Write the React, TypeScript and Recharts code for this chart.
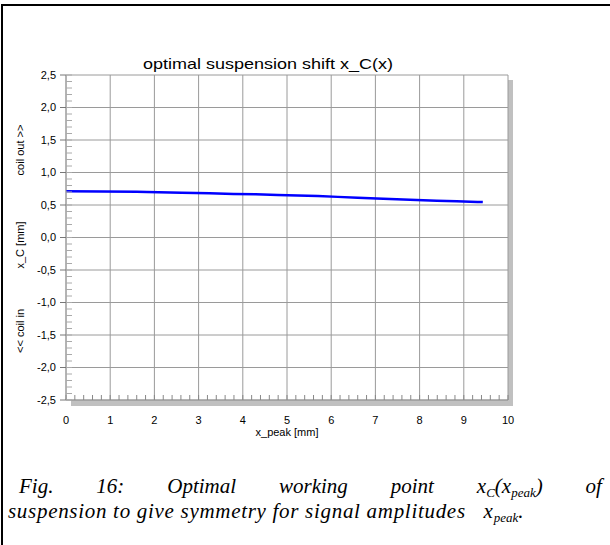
import React from 'react';
import { LineChart, Line, XAxis, YAxis, CartesianGrid } from 'recharts';

const xPeak = [0, 1.6, 1.83, 2.62, 3.25, 3.79, 4.29, 4.79, 5.24, 5.7, 6.15, 6.6, 7.03, 7.48, 7.93, 8.39, 8.84, 9.31, 9.43];
const xC = [0.71, 0.705, 0.7, 0.69, 0.68, 0.67, 0.665, 0.655, 0.645, 0.638, 0.625, 0.61, 0.6, 0.59, 0.578, 0.567, 0.557, 0.548, 0.545];

const xTicks = [0, 1, 2, 3, 4, 5, 6, 7, 8, 9, 10];
const yTicks = [-2.5, -2, -1.5, -1, -0.5, 0, 0.5, 1, 1.5, 2, 2.5];
const xMinorTicks = Array.from({ length: 51 }, (_, i) => +(i * 0.2).toFixed(1));
const yMinorTicks = Array.from({ length: 51 }, (_, i) => +(-2.5 + i * 0.1).toFixed(1));

const title = 'optimal suspension shift x_C(x)';
const xLabel = 'x_peak [mm]';
const yLabelTop = 'coil out >>';
const yLabelMid = 'x_C [mm]';
const yLabelBot = '<< coil in';

const data = xPeak.map((x, i) => ({ x, y: xC[i] }));

const GRID = '#9a9a9a';
const sans = 'Arial, "Liberation Sans", sans-serif';
const serif = '"Times New Roman", "Liberation Serif", serif';

const fmt = (v: number) => v.toFixed(1).replace('.', ',');

const subStyle: React.CSSProperties = { fontSize: 13, verticalAlign: '-4px', lineHeight: 0, letterSpacing: 0 };

const rotLabel = (text: string, cy: number) => (
  <div
    style={{
      position: 'absolute',
      left: 20,
      top: cy,
      transform: 'translate(-50%, -50%) rotate(-90deg)',
      whiteSpace: 'nowrap',
      fontFamily: sans,
      fontSize: 11,
      color: '#000',
    }}
  >
    {text}
  </div>
);

export default function App() {
  return (
    <div style={{ position: 'absolute', left: 0, top: 0, width: 610, height: 545, background: '#fff', overflow: 'hidden' }}>
      <div style={{ position: 'absolute', left: 1, top: 4, width: 700, height: 700, borderLeft: '2px solid #000', borderTop: '2px solid #000' }} />
      <div style={{ position: 'absolute', left: 71, top: 80, width: 442, height: 326, background: '#c0c0c0' }} />
      <div
        style={{
          position: 'absolute',
          left: 268,
          top: 63,
          transform: 'translate(-50%, -50%) scaleX(1.2)',
          whiteSpace: 'nowrap',
          fontFamily: sans,
          fontSize: 15,
          color: '#000',
        }}
      >
        {title}
      </div>
      <div style={{ position: 'absolute', left: 0, top: 0 }}>
        <LineChart width={610} height={545} data={data} margin={{ top: 75, right: 102, left: 26, bottom: 115 }}>
          <CartesianGrid stroke={GRID} fill="#fff" fillOpacity={1} />
          <XAxis
            dataKey="x"
            type="number"
            domain={[0, 10]}
            ticks={xTicks}
            interval={0}
            height={30}
            tickSize={0}
            tickMargin={16}
            axisLine={{ stroke: GRID }}
            tickLine={false}
            tick={{ fill: '#000', fontSize: 11, fontFamily: sans }}
          />
          <XAxis
            xAxisId="minor"
            dataKey="x"
            type="number"
            domain={[0, 10]}
            ticks={xMinorTicks}
            interval={0}
            mirror
            axisLine={false}
            tickSize={5}
            tickLine={{ stroke: '#888' }}
            tick={() => <g />}
          />
          <YAxis
            dataKey="y"
            type="number"
            domain={[-2.5, 2.5]}
            ticks={yTicks}
            interval={0}
            width={40}
            tickSize={6}
            tickMargin={4}
            tickFormatter={fmt}
            axisLine={{ stroke: GRID }}
            tickLine={{ stroke: '#777' }}
            tick={{ fill: '#000', fontSize: 11, fontFamily: sans }}
          />
          <YAxis
            yAxisId="minor"
            dataKey="y"
            type="number"
            domain={[-2.5, 2.5]}
            ticks={yMinorTicks}
            interval={0}
            mirror
            axisLine={false}
            tickSize={6}
            tickLine={{ stroke: '#aaa' }}
            tick={() => <g />}
          />
          <Line
            dataKey="y"
            type="linear"
            stroke="#0000ff"
            strokeWidth={2.5}
            dot={false}
            isAnimationActive={false}
          />
        </LineChart>
      </div>
      <div
        style={{
          position: 'absolute',
          left: 287,
          top: 432,
          transform: 'translate(-50%, -50%)',
          whiteSpace: 'nowrap',
          fontFamily: sans,
          fontSize: 11,
          color: '#000',
        }}
      >
        {xLabel}
      </div>
      {rotLabel(yLabelTop, 150)}
      {rotLabel(yLabelMid, 245)}
      {rotLabel(yLabelBot, 331)}
      <div
        style={{
          position: 'absolute',
          left: 0,
          top: 474,
          width: 610,
          fontFamily: serif,
          fontStyle: 'italic',
          fontSize: 21,
          lineHeight: '25px',
          color: '#000',
        }}
      >
        <div style={{ paddingLeft: 19, paddingRight: 8, height: 25, whiteSpace: 'nowrap' }}>
          <span style={{ display: 'flex', justifyContent: 'space-between' }}>
            <span>Fig.</span>
            <span>16:</span>
            <span>Optimal</span>
            <span>working</span>
            <span>point</span>
            <span>
              x<sub style={subStyle}>C</sub>(x<sub style={subStyle}>peak</sub>)
            </span>
            <span>of</span>
          </span>
        </div>
        <div style={{ paddingLeft: 8, height: 25, whiteSpace: 'nowrap', letterSpacing: 0.7 }}>
          suspension to give symmetry for signal amplitudes&nbsp;&nbsp; x<sub style={subStyle}>peak</sub>.
        </div>
      </div>
    </div>
  );
}
